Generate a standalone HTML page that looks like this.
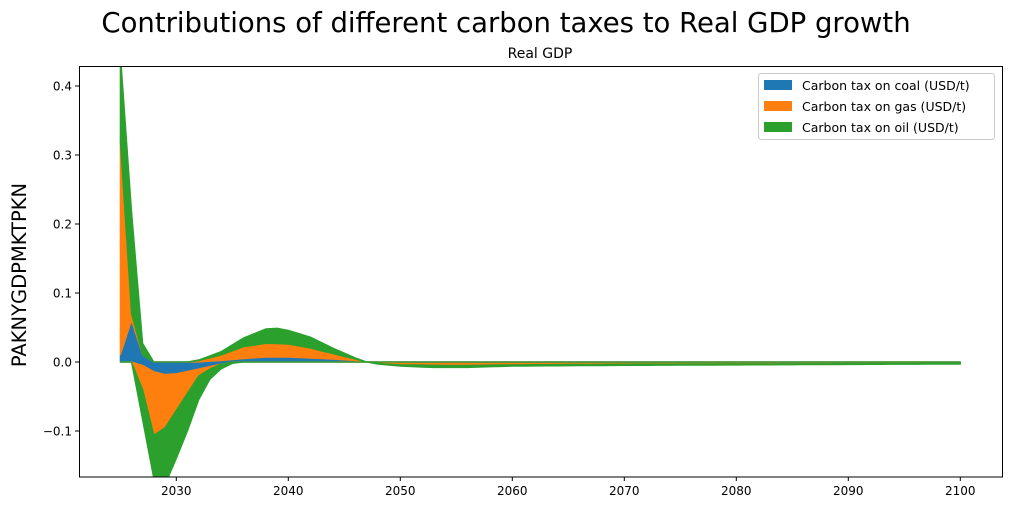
<!DOCTYPE html>
<html><head><meta charset="utf-8"><style>
body{margin:0;background:#fff;width:1011px;height:511px;overflow:hidden}
svg{display:block;font-family:"DejaVu Sans","Liberation Sans",sans-serif}
</style></head><body>
<svg id="s" width="1011" height="511" xmlns="http://www.w3.org/2000/svg">
<rect width="1011" height="511" fill="#fff"/>
<text x="506" y="32" font-size="27.5" text-anchor="middle">Contributions of different carbon taxes to Real GDP growth</text>
<text x="540" y="58" font-size="14" text-anchor="middle">Real GDP</text>
<defs><clipPath id="c"><rect x="79" y="66" width="924" height="411"/></clipPath></defs>
<g id="areas" clip-path="url(#c)"></g>
<rect x="79.5" y="66.5" width="923" height="410.5" fill="none" stroke="#000" stroke-width="1"/>
<g id="ticks" font-size="12"></g>
<text transform="translate(26,275) rotate(-90)" font-size="19.5" text-anchor="middle">PAKNYGDPMKTPKN</text>
<rect x="758.5" y="73.5" width="236" height="66" rx="3" fill="#fff" fill-opacity="0.8" stroke="#ccc"/>
<rect x="764" y="80" width="28" height="10" fill="#1f77b4"/>
<rect x="764" y="101" width="28" height="10" fill="#ff7f0e"/>
<rect x="764" y="122" width="28" height="10" fill="#2ca02c"/>
<text x="802" y="90" font-size="12.5">Carbon tax on coal (USD/t)</text>
<text x="802" y="111" font-size="12.5">Carbon tax on gas (USD/t)</text>
<text x="802" y="132" font-size="12.5">Carbon tax on oil (USD/t)</text>
</svg>
<script>
const X=y=>176.3+(y-2030)*11.2, Y=v=>362-v*690;
function interp(k){const out=[];for(let yr=2025;yr<=2100;yr++){let i=0;while(i<k.length-1&&k[i+1][0]<yr)i++;const a=k[i],b=k[Math.min(i+1,k.length-1)];let v;if(yr<=a[0])v=a[1];else if(yr>=b[0])v=b[1];else v=a[1]+(b[1]-a[1])*(yr-a[0])/(b[0]-a[0]);out.push(v);}return out;}
const Cp=interp([[2025,.01],[2026,.06],[2027,.01],[2028,0],[2032,0],[2034,.002],[2036,.005],[2038,.007],[2040,.007],[2043,.005],[2046,.002],[2047,0],[2100,0]]);
const Gp=interp([[2025,.32],[2026,.07],[2027,.01],[2028,0],[2031,0],[2032,.002],[2034,.01],[2036,.022],[2038,.027],[2040,.026],[2042,.02],[2044,.012],[2046,.004],[2047,0],[2100,0]]);
const Op=interp([[2025,.45],[2026,.22],[2027,.027],[2028,0],[2031,0],[2032,.003],[2034,.015],[2036,.035],[2038,.048],[2039,.049],[2040,.046],[2042,.036],[2044,.02],[2046,.006],[2047,0],[2100,0]]);
const Cn=interp([[2025,0],[2026,0],[2027,-.005],[2028,-.014],[2029,-.018],[2030,-.017],[2032,-.01],[2034,-.003],[2035,0],[2047,0],[2048,-.001],[2050,-.002],[2100,-.002]]);
const Gn=interp([[2025,0],[2026,0],[2027,-.04],[2028,-.106],[2029,-.095],[2030,-.07],[2031,-.045],[2032,-.02],[2033,-.01],[2034,-.003],[2035,0],[2047,0],[2048,-.002],[2050,-.004],[2055,-.005],[2060,-.004],[2070,-.003],[2100,-.002]]);
const On=interp([[2025,0],[2026,0],[2027,-.085],[2028,-.17],[2029,-.178],[2030,-.14],[2031,-.1],[2032,-.055],[2033,-.025],[2034,-.01],[2035,-.002],[2036,0],[2047,0],[2048,-.003],[2050,-.006],[2053,-.008],[2056,-.008],[2060,-.006],[2070,-.005],[2100,-.003]]);
const Z=Cp.map(()=>0);
function band(lo,hi,col){let p=[];for(let i=0;i<hi.length;i++)p.push(X(2025+i).toFixed(1)+','+Y(hi[i]).toFixed(1));for(let i=lo.length-1;i>=0;i--)p.push(X(2025+i).toFixed(1)+','+Y(lo[i]).toFixed(1));return `<polygon points="${p.join(' ')}" fill="${col}" stroke="${col}" stroke-width="1.2"/>`;}
document.getElementById('areas').innerHTML=
 band(Z,Cp,'#1f77b4')+band(Cn,Z,'#1f77b4')+band(Cp,Gp,'#ff7f0e')+band(Gn,Cn,'#ff7f0e')+band(Gp,Op,'#2ca02c')+band(On,Gn,'#2ca02c');
let t='';
for(let yr=2030;yr<=2100;yr+=10){const x=X(yr);t+=`<line x1="${x}" y1="477" x2="${x}" y2="481" stroke="#000"/><text x="${x}" y="495" text-anchor="middle">${yr}</text>`;}
[[0.4,'0.4'],[0.3,'0.3'],[0.2,'0.2'],[0.1,'0.1'],[0,'0.0'],[-0.1,'−0.1']].forEach(([v,l])=>{const y=Y(v);t+=`<line x1="75" y1="${y}" x2="79" y2="${y}" stroke="#000"/><text x="72" y="${y+4.5}" text-anchor="end">${l}</text>`;});
document.getElementById('ticks').innerHTML=t;
</script>
</body></html>
